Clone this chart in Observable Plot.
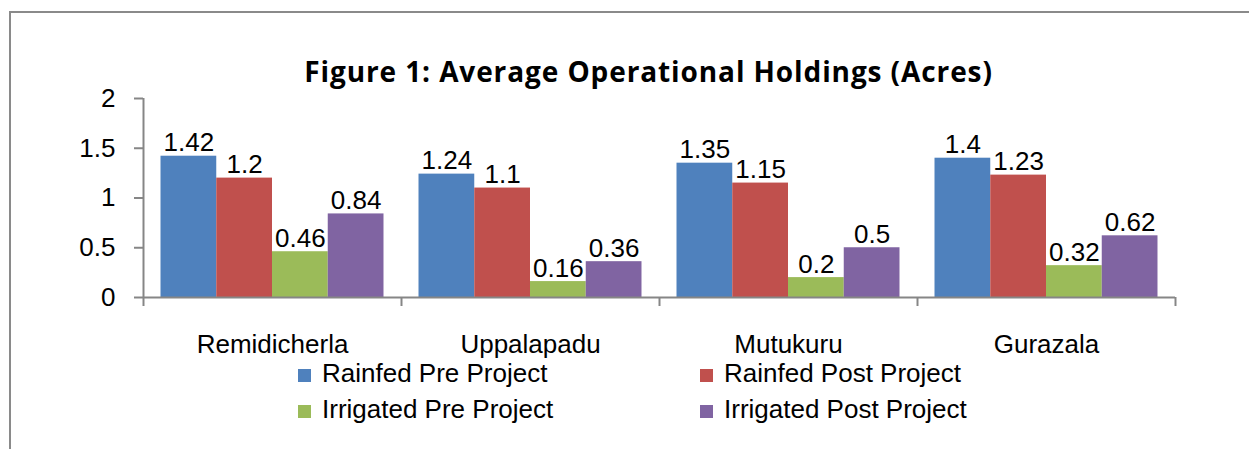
<!DOCTYPE html>
<html>
<head>
<meta charset="utf-8">
<script src="https://cdn.jsdelivr.net/npm/d3@7"></script>
<script src="https://cdn.jsdelivr.net/npm/@observablehq/plot@0.6"></script>
<style>
  html, body { margin: 0; padding: 0; background: #fff; }
  body { width: 1249px; height: 449px; position: relative; overflow: hidden; font-family: "Liberation Sans", Arial, sans-serif; }
  #frame { position: absolute; left: 9px; top: 11px; width: 1300px; height: 500px; border-left: 2px solid #8a8a8a; border-top: 2px solid #8a8a8a; }
  #title { position: absolute; left: 0; width: 1297px; top: 57px; text-align: center; font-family: "Open Sans", sans-serif; font-weight: 700; font-size: 28px; line-height: 28px; letter-spacing: 0.9px; color: #000; }
  #chart { position: absolute; left: 0; top: 86px; }
  .leg { position: absolute; font-size: 26px; line-height: 26px; color: #000; white-space: nowrap; }
  .sw { position: absolute; width: 13px; height: 13px; }
</style>
</head>
<body>
<div id="frame"></div>
<div id="title">Figure 1: Average Operational Holdings (Acres)</div>
<div id="chart"></div>
<div id="legend"></div>
<script>
const categories = ["Remidicherla", "Uppalapadu", "Mutukuru", "Gurazala"];
const series = ["Rainfed Pre Project", "Rainfed Post Project", "Irrigated Pre Project", "Irrigated Post Project"];
const rainfedPre = [1.42, 1.24, 1.35, 1.4];
const rainfedPost = [1.2, 1.1, 1.15, 1.23];
const irrigatedPre = [0.46, 0.16, 0.2, 0.32];
const irrigatedPost = [0.84, 0.36, 0.5, 0.62];
const colors = ["#4F81BD", "#C0504D", "#9BBB59", "#8064A2"];
const yTicks = [0, 0.5, 1, 1.5, 2];

const seriesValues = [rainfedPre, rainfedPost, irrigatedPre, irrigatedPost];
const pad = 0.314;
const w = 1 / (series.length + 2 * pad);
const rows = [];
categories.forEach((cat, i) => {
  series.forEach((s, j) => {
    rows.push({cat, series: s, value: seriesValues[j][i], x1: i + (pad + j) * w, x2: i + (pad + j + 1) * w});
  });
});

const axisColor = "#868686";
const chart = Plot.plot({
  width: 1249, height: 276,
  marginLeft: 143, marginRight: 74, marginTop: 12, marginBottom: 65,
  x: {domain: [0, categories.length], axis: null},
  y: {domain: [0, 2], axis: null},
  color: {domain: series, range: colors},
  style: {fontFamily: "'Liberation Sans', Arial, sans-serif", fontSize: "26px", color: "#000", background: "transparent", overflow: "visible"},
  marks: [
    Plot.rectY(rows, {x1: "x1", x2: "x2", y1: 0, y2: "value", fill: "series", inset: 0}),
    Plot.ruleY([0], {stroke: axisColor, strokeWidth: 2}),
    Plot.ruleX([0], {y1: 0, y2: 2, stroke: axisColor, strokeWidth: 2}),
    Plot.axisY({ticks: yTicks, tickSize: 9, tickPadding: 19, tickFormat: d => String(d), label: null, stroke: axisColor, strokeWidth: 2, fill: "#000", fontSize: 26}),
    Plot.axisX({ticks: d3.range(categories.length + 1), tickSize: 9, tickFormat: () => "", label: null, stroke: axisColor, strokeWidth: 2}),
    Plot.text(categories, {x: (d, i) => i + 0.5, y: 0, text: d => d, dy: 55, lineAnchor: "bottom", fill: "#000", fontSize: 26}),
    Plot.text(rows, {x: d => (d.x1 + d.x2) / 2, y: "value", text: d => String(d.value), dy: -5, lineAnchor: "bottom", fill: "#000", fontSize: 26})
  ]
});
document.getElementById("chart").appendChild(chart);

// legend (HTML, below/around the SVG)
const legend = document.getElementById("legend");
const legPos = [[298, 369], [700, 369], [298, 405], [700, 405]];
series.forEach((s, j) => {
  const [lx, ly] = legPos[j];
  const sw = document.createElement("div");
  sw.className = "sw";
  sw.style.left = lx + "px"; sw.style.top = ly + "px"; sw.style.background = colors[j];
  legend.appendChild(sw);
  const t = document.createElement("div");
  t.className = "leg";
  t.textContent = s;
  t.style.left = (lx + 24) + "px"; t.style.top = (ly - 9) + "px";
  legend.appendChild(t);
});
</script>
</body>
</html>
